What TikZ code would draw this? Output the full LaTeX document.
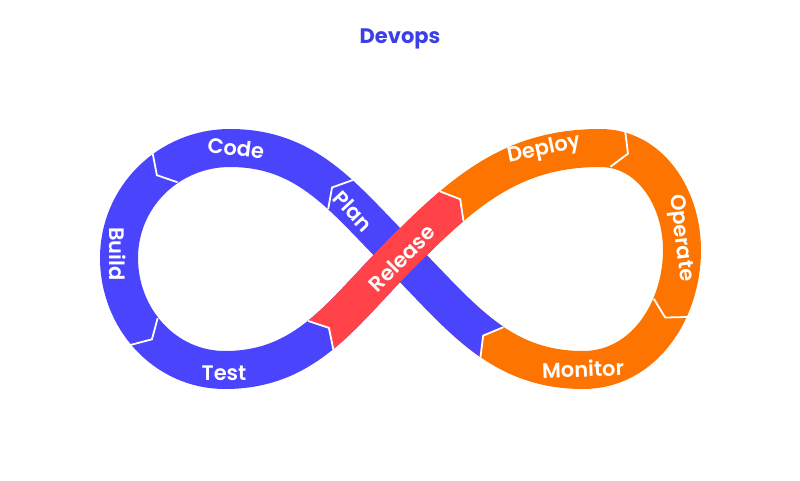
\documentclass[tikz,border=0pt]{standalone}
\usepackage{fontspec}
\setmainfont{Poppins}[UprightFont=* SemiBold, BoldFont=* Bold]
\usetikzlibrary{decorations.markings,calc}
\definecolor{dblue}{HTML}{4A44FD}
\definecolor{dorange}{HTML}{FD7500}
\definecolor{dred}{HTML}{FF4348}
\definecolor{dtitle}{HTML}{3D3FE6}
\begin{document}
\begin{tikzpicture}[x=1pt,y=1pt,
  band/.style={line width=38pt,line cap=butt},
  lbl/.style={text=white,font=\fontsize{21}{21}\selectfont},
  sep/.style={draw=white,line width=1.8pt,line join=miter}]
\useasboundingbox (0,0) rectangle (800,480);
\coordinate (X) at (400,225);
\coordinate (TL) at (230,332);
\coordinate (LL) at (119,222);
\coordinate (BL) at (225,110);
\coordinate (TR) at (600,332);
\coordinate (RR) at (682,230);
\coordinate (BR) at (583,110);
\def\Lpath{(X) to[out=135,in=0] (TL) to[out=180,in=90] (LL) to[out=-90,in=180] (BL) to[out=0,in=-135] (X)}
\def\Rpath{(X) to[out=45,in=180] (TR) to[out=0,in=90] (RR) to[out=-90,in=0] (BR) to[out=180,in=-45] (X)}
\def\mk#1{\coordinate (c#1) at (0,0); \coordinate (c#1l) at (-11,19); \coordinate (c#1r) at (-11,-19);}
% markers
\path[decorate,decoration={markings,
  mark=at position 0.062 with {\mk1},
  mark=at position 0.186 with {\mk2},
  mark=at position 0.305 with {\mk3},
  mark=at position 0.432 with {\mk4},
  mark=at position 0.551 with {\mk5},
  mark=at position 0.668 with {\mk6},
  mark=at position 0.789 with {\mk7},
  mark=at position 0.925 with {\mk8},
  mark=at position 0.999 with {\coordinate (el) at (12,32); \coordinate (er) at (12,-32);}}]
  \Lpath to[out=45,in=180] (TR) to[out=0,in=90] (RR) to[out=-90,in=0] (BR) to[out=180,in=-45] (X);
% bands
\draw[band,dblue] \Lpath;
\draw[band,dorange] \Rpath;
\begin{scope}
  \clip ($(c8)!1.7!(c8l)$) -- (c8) -- ($(c8)!1.7!(c8r)$) -- (er) -- (el) -- cycle;
  \draw[band,dblue] \Rpath;
\end{scope}
\begin{scope}
  \clip ($(c4)!1.7!(c4l)$) -- (c4) -- ($(c4)!1.7!(c4r)$) -- ($(c5)!1.7!(c5r)$) -- (c5) -- ($(c5)!1.7!(c5l)$) -- cycle;
  \draw[band,dred] (BL) to[out=0,in=-135] (X) to[out=45,in=180] (TR);
\end{scope}
% separators
\foreach \i in {1,...,8}{
  \draw[sep] (c\i l) -- (c\i) -- (c\i r);
}
% labels
\node[lbl,rotate=-7] (code) at (236,332) {Code};
\node[lbl,rotate=-90] (build) at (118,226) {Build};
\node[lbl] (test) at (224,107) {Test};
\node[lbl,rotate=-47] (plan) at (353,269) {Plan};
\node[lbl,rotate=45] (release) at (402,222) {Release};
\node[lbl,rotate=12] (deploy) at (544,330) {Deploy};
\node[lbl,rotate=-83] (operate) at (680,242) {Operate};
\node[lbl,rotate=2] (monitor) at (583,111) {Monitor};
\node[text=dtitle,font=\fontsize{21}{21}\selectfont\bfseries] (title) at (400,441) {Devops};
\end{tikzpicture}
\end{document}
